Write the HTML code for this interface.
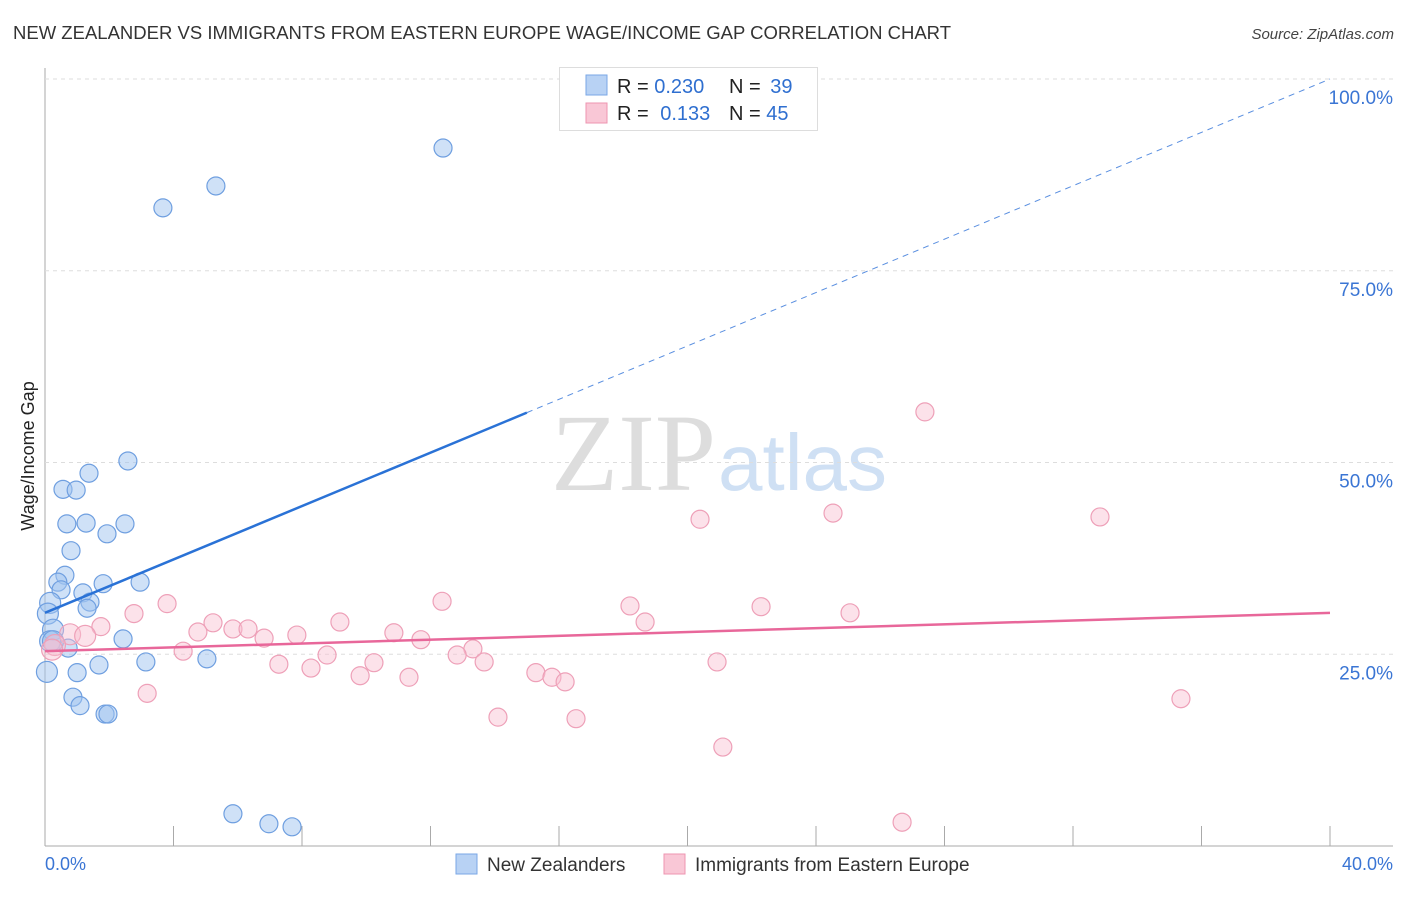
<!DOCTYPE html>
<html><head><meta charset="utf-8"><style>
body{margin:0;background:#fff;width:1406px;height:892px;overflow:hidden;font-family:"Liberation Sans",sans-serif;}
svg text{font-family:"Liberation Sans",sans-serif;}
</style></head><body>
<svg id="chart" width="1406" height="892" xmlns="http://www.w3.org/2000/svg">
<text x="13" y="39" font-size="18" fill="#333" textLength="938" lengthAdjust="spacingAndGlyphs">NEW ZEALANDER VS IMMIGRANTS FROM EASTERN EUROPE WAGE/INCOME GAP CORRELATION CHART</text>
<text x="1394" y="39" font-size="15" fill="#444" text-anchor="end" font-style="italic">Source: ZipAtlas.com</text>
<text transform="translate(34,456) rotate(-90)" font-size="18" fill="#222" text-anchor="middle">Wage/Income Gap</text>
<text x="716" y="490" font-size="110" text-anchor="end" fill="#ddd" style="font-family:'Liberation Serif',serif">ZIP</text>
<text x="718" y="490" font-size="80" fill="#cfe0f4">atlas</text>
<g id="grid"></g>
<g id="marks"></g>
<g>
<rect x="559.5" y="67.5" width="258" height="63" fill="#fff" stroke="#ddd"/>
<rect x="586" y="75" width="21" height="20" fill="#b8d2f4" stroke="#7aa7e6"/>
<rect x="586" y="103" width="21" height="20" fill="#f9c7d6" stroke="#ee94b0"/>
<text x="617" y="93" font-size="20" fill="#222">R = <tspan fill="#2f6fd0">0.230</tspan></text>
<text x="729" y="93" font-size="20" fill="#222">N = <tspan fill="#2f6fd0" dx="4">39</tspan></text>
<text x="617" y="120" font-size="20" fill="#222">R = <tspan fill="#2f6fd0" dx="6">0.133</tspan></text>
<text x="729" y="120" font-size="20" fill="#222">N = <tspan fill="#2f6fd0">45</tspan></text>
</g>
<g>
<rect x="456" y="854" width="21" height="20" fill="#b8d2f4" stroke="#7aa7e6"/>
<text x="487" y="871" font-size="19" fill="#333">New Zealanders</text>
<rect x="664" y="854" width="21" height="20" fill="#f9c7d6" stroke="#ee94b0"/>
<text x="695" y="871" font-size="19" fill="#333">Immigrants from Eastern Europe</text>
</g>
</svg>
<script>
const blueX=[12.39,5.32,3.67,2.58,1.37,0.56,0.97,0.68,1.28,2.49,0.81,1.93,0.62,0.40,0.50,1.81,2.96,1.18,1.40,1.31,0.16,0.09,0.25,0.16,0.72,2.43,0.06,1.68,1.00,3.14,5.04,0.87,1.09,1.87,1.96,5.85,6.97,7.69,0.25];
const blueY=[91.0,86.05,83.2,50.2,48.6,46.5,46.4,42.0,42.1,42.0,38.5,40.7,35.3,34.4,33.4,34.2,34.4,33.0,31.8,31.0,31.7,30.3,28.2,26.7,25.8,27.0,22.7,23.6,22.6,24.0,24.4,19.4,18.3,17.2,17.2,4.2,2.9,2.5,26.7];
const pinkX=[27.39,32.84,24.53,20.39,12.36,18.21,22.29,25.06,3.80,2.77,18.68,9.18,5.23,1.74,5.85,6.32,4.76,10.86,7.84,6.82,11.70,13.32,4.30,12.83,8.78,13.67,10.24,20.92,7.28,8.28,15.28,9.81,11.33,15.78,16.19,3.18,35.36,14.10,16.53,21.10,26.68,0.78,1.25,0.31,0.22];
const pinkY=[56.6,42.9,43.4,42.6,31.9,31.3,31.2,30.4,31.6,30.3,29.2,29.2,29.1,28.6,28.3,28.3,27.9,27.8,27.5,27.1,26.9,25.7,25.4,24.9,24.9,24.0,23.9,24.0,23.7,23.2,22.6,22.2,22.0,22.0,21.4,19.9,19.2,16.8,16.6,12.9,3.1,27.6,27.4,26.2,25.6];
const blueTrend=[30.4,100.0], blueSolidEnd=15.0;
const pinkTrend=[25.4,30.4];
const yTicks=[25,50,75,100];
const xTickLabels=["0.0%","40.0%"];
const NS="http://www.w3.org/2000/svg";
const X=v=>45+v/40*1285, Y=v=>846-v/100*767;
function mk(tag,attrs,parent){const e=document.createElementNS(NS,tag);for(const k in attrs)e.setAttribute(k,attrs[k]);parent.appendChild(e);return e;}
const grid=document.getElementById('grid'), marks=document.getElementById('marks');
let e=mk('line',{x1:45,y1:68,x2:45,y2:846,stroke:'#aaa'},grid);


e=mk('line',{x1:45,y1:846,x2:1393,y2:846,stroke:'#aaa'},grid);


yTicks.forEach(t=>{
 let g=mk('line',{x1:45,y1:Y(t),x2:1393,y2:Y(t),stroke:'#ddd','stroke-dasharray':'4,4'},grid);
 
 
 let l=mk('text',{x:1393,y:Y(t)+25,'font-size':19,fill:'#3a75d4','text-anchor':'end'},grid);l.textContent=t.toFixed(1)+'%';
 
 
});
for(let i=0;i<=10;i++){
 let t=mk('line',{x1:X(i*4),y1:826,x2:X(i*4),y2:846,stroke:'#aaa'},grid);
 
 
}
let xl=mk('text',{x:45,y:870,'font-size':18,fill:'#3a75d4'},grid);xl.textContent=xTickLabels[0];


xl=mk('text',{x:1393,y:870,'font-size':18,fill:'#3a75d4','text-anchor':'end'},grid);xl.textContent=xTickLabels[1];


blueX.forEach((v,i)=>{const c=mk('circle',{cx:X(v),cy:Y(blueY[i]),r:(v<0.3?10.5:9),fill:'rgba(160,196,240,0.5)',stroke:'#6f9fe0','stroke-width':1.2},marks);
 
 });
pinkX.forEach((v,i)=>{const c=mk('circle',{cx:X(v),cy:Y(pinkY[i]),r:(v<1.3?10.5:9),fill:'rgba(248,190,208,0.45)',stroke:'#eea0b8','stroke-width':1.2},marks);
 
 });
const bAt=x=>blueTrend[0]+(blueTrend[1]-blueTrend[0])*x/40;
let tl=mk('line',{x1:X(0),y1:Y(blueTrend[0]),x2:X(blueSolidEnd),y2:Y(bAt(blueSolidEnd)),stroke:'#2a72d6','stroke-width':2.5},marks);


tl=mk('line',{x1:X(blueSolidEnd),y1:Y(bAt(blueSolidEnd)),x2:X(40),y2:Y(blueTrend[1]),stroke:'#5a8fe0','stroke-width':1,'stroke-dasharray':'6,5'},marks);


tl=mk('line',{x1:X(0),y1:Y(pinkTrend[0]),x2:X(40),y2:Y(pinkTrend[1]),stroke:'#e8679a','stroke-width':2.5},marks);


</script>
</body></html>
